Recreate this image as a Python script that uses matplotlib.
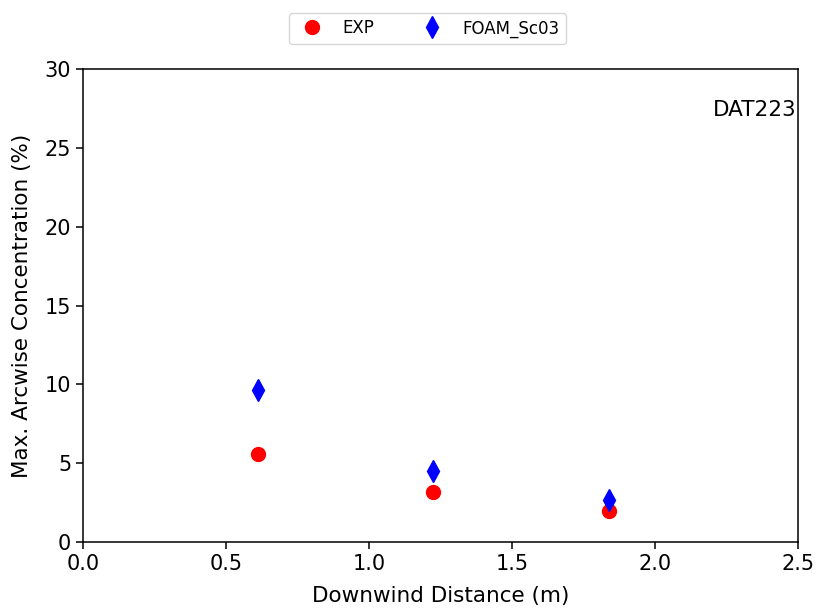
import numpy as np
import matplotlib
matplotlib.use('Agg')
import matplotlib.pyplot as plt

# data
x_exp = [0.6125, 1.225, 1.8375]
y_exp = [5.58, 3.16, 1.97]
x_foam = [0.6125, 1.225, 1.8375]
y_foam = [9.64, 4.52, 2.68]

fig = plt.figure(figsize=(8.16, 6.13), dpi=100)
ax = fig.add_axes([0.1017, 0.1158, 0.8763, 0.7716])

ax.plot(x_exp, y_exp, 'o', color='red', markersize=10, label='EXP')
ax.plot(x_foam, y_foam, 'd', color='blue', markersize=11, label='FOAM_Sc03')

ax.set_xlim(0, 2.5)
ax.set_ylim(0, 30)
ax.set_xticks(np.arange(0, 2.6, 0.5))
ax.set_yticks(np.arange(0, 31, 5))
ax.tick_params(labelsize=15, width=1.1, length=5)
for s in ax.spines.values():
    s.set_linewidth(1.1)
ax.set_xlabel('Downwind Distance (m)', fontsize=15.5, labelpad=9)
ax.set_ylabel('Max. Arcwise Concentration (%)', fontsize=15.5, labelpad=9)
ax.text(0.998, 0.913, 'DAT223', transform=ax.transAxes, ha='right', va='center', fontsize=15.5)

fig.legend(loc='upper center', bbox_to_anchor=(0.524, 0.993), ncol=2, fontsize=12,
           columnspacing=2.5)

fig.savefig('out.png', dpi=100)
